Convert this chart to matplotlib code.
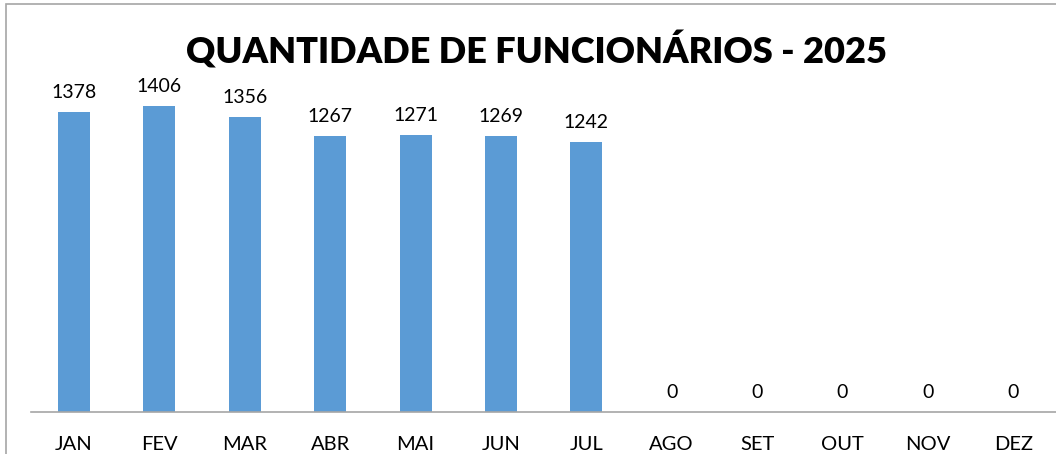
import matplotlib.pyplot as plt
from matplotlib.patches import Rectangle

meses = ['JAN', 'FEV', 'MAR', 'ABR', 'MAI', 'JUN', 'JUL', 'AGO', 'SET', 'OUT', 'NOV', 'DEZ']
funcionarios = [1378, 1406, 1356, 1267, 1271, 1269, 1242, 0, 0, 0, 0, 0]

plt.rcParams['font.family'] = ['Lato', 'DejaVu Sans']

W, H = 1056, 454
fig = plt.figure(figsize=(W / 100, H / 100), dpi=100)

# moldura cinza do gráfico (lado direito e de baixo cortados)
fig.patches.append(Rectangle((6 / W, -0.1), 1.2, (H - 3.5) / H + 0.1, transform=fig.transFigure,
                             fill=False, edgecolor='#a6a6a6', linewidth=1.2))

ax = fig.add_axes([31.3 / W, (H - 412) / H, (W - 31.3) / W, 408 / H])
x = range(len(meses))
ax.bar(x, funcionarios, width=0.375, color='#5b9bd5')
ax.set_xlim(-0.5, len(meses) - 0.5)
ax.set_ylim(0, 408 / 0.2176)

for i, v in enumerate(funcionarios):
    ax.annotate(str(v), (i, v), xytext=(0, 8), textcoords='offset points',
                ha='center', va='bottom', fontsize=14, color='#000000')

ax.set_xticks(list(x))
ax.set_xticklabels(meses, fontsize=14.5)
ax.tick_params(axis='x', length=0, pad=17)
ax.set_yticks([])
for s in ['top', 'right', 'left']:
    ax.spines[s].set_visible(False)
ax.spines['bottom'].set_color('#a6a6a6')
ax.spines['bottom'].set_linewidth(1.2)

fig.text(537 / W, 1 - 50 / H, 'QUANTIDADE DE FUNCIONÁRIOS - 2025', ha='center', va='center',
         fontsize=26, fontweight='heavy')

fig.savefig('out.png', dpi=100)
